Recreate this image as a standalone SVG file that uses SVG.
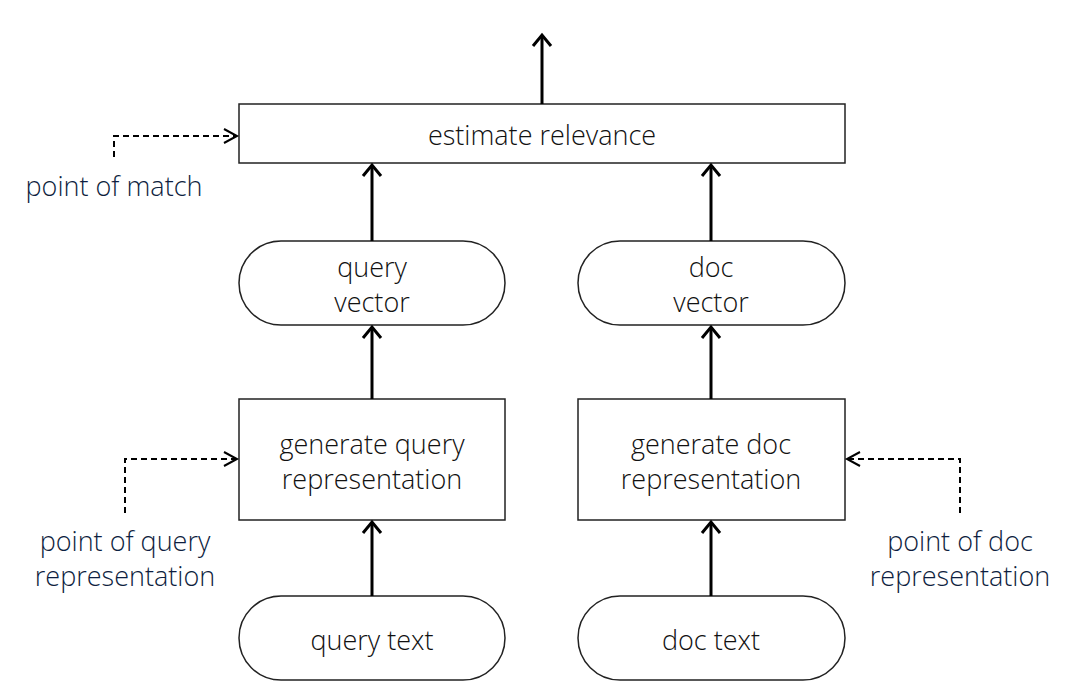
<svg xmlns="http://www.w3.org/2000/svg" width="1066" height="692" viewBox="0 0 1066 692">
<style>
.node{fill:#fff;stroke:#222;stroke-width:1.5}
.t{font-family:"Open Sans","Noto Sans",sans-serif;font-size:27px;font-weight:300;fill:#111;text-anchor:middle}
.a{font-family:"Open Sans","Noto Sans",sans-serif;font-size:27px;font-weight:300;fill:#0e1e40;text-anchor:middle}
.solid{fill:none;stroke:#000;stroke-width:3}
.dash{fill:none;stroke:#000;stroke-width:2;stroke-dasharray:6,4}
.head{fill:none;stroke:#000;stroke-width:3;stroke-linejoin:miter}
.headd{fill:none;stroke:#000;stroke-width:2}
</style>
<rect width="1066" height="692" fill="#fff"/>
<g id="estimate"><rect class="node" x="239" y="104" width="606" height="59"/><text class="t" x="542" y="145">estimate relevance</text></g>
<g id="query-vector"><rect class="node" x="239" y="241" width="266" height="84" rx="42"/><text class="t" x="372" y="277">query</text><text class="t" x="372" y="312">vector</text></g>
<g id="doc-vector"><rect class="node" x="578" y="241" width="267" height="84" rx="42"/><text class="t" x="711" y="277">doc</text><text class="t" x="711" y="312">vector</text></g>
<g id="gen-query"><rect class="node" x="239" y="399" width="266" height="121"/><text class="t" x="372" y="454">generate query</text><text class="t" x="372" y="489">representation</text></g>
<g id="gen-doc"><rect class="node" x="578" y="399" width="267" height="121"/><text class="t" x="711" y="454">generate doc</text><text class="t" x="711" y="489">representation</text></g>
<g id="query-text"><rect class="node" x="239" y="596" width="266" height="84" rx="42"/><text class="t" x="372" y="650">query text</text></g>
<g id="doc-text"><rect class="node" x="578" y="596" width="267" height="84" rx="42"/><text class="t" x="711" y="650">doc text</text></g>
<g id="annotations">
<text class="a" x="114" y="196">point of match</text>
<text class="a" x="125" y="551">point of query</text>
<text class="a" x="125" y="586">representation</text>
<text class="a" x="960" y="551">point of doc</text>
<text class="a" x="960" y="586">representation</text>
</g>
<g id="connectors">
<line class="solid" x1="542" y1="104" x2="542" y2="36"/><polyline class="head" points="533,46 542,35 551,46"/>
<line class="solid" x1="372" y1="241" x2="372" y2="166"/><polyline class="head" points="363,176 372,165 381,176"/>
<line class="solid" x1="711" y1="241" x2="711" y2="166"/><polyline class="head" points="702,176 711,165 720,176"/>
<line class="solid" x1="372" y1="399" x2="372" y2="328"/><polyline class="head" points="363,338 372,327 381,338"/>
<line class="solid" x1="711" y1="399" x2="711" y2="328"/><polyline class="head" points="702,338 711,327 720,338"/>
<line class="solid" x1="372" y1="596" x2="372" y2="523"/><polyline class="head" points="363,533 372,522 381,533"/>
<line class="solid" x1="711" y1="596" x2="711" y2="523"/><polyline class="head" points="702,533 711,522 720,533"/>
<polyline class="dash" points="114,157 114,136 236,136"/><polyline class="headd" points="224,129 237,136 224,143"/>
<polyline class="dash" points="125,513 125,459 236,459"/><polyline class="headd" points="224,452 237,459 224,466"/>
<polyline class="dash" points="960,513 960,459 848,459"/><polyline class="headd" points="860,452 847,459 860,466"/>
</g>
</svg>
